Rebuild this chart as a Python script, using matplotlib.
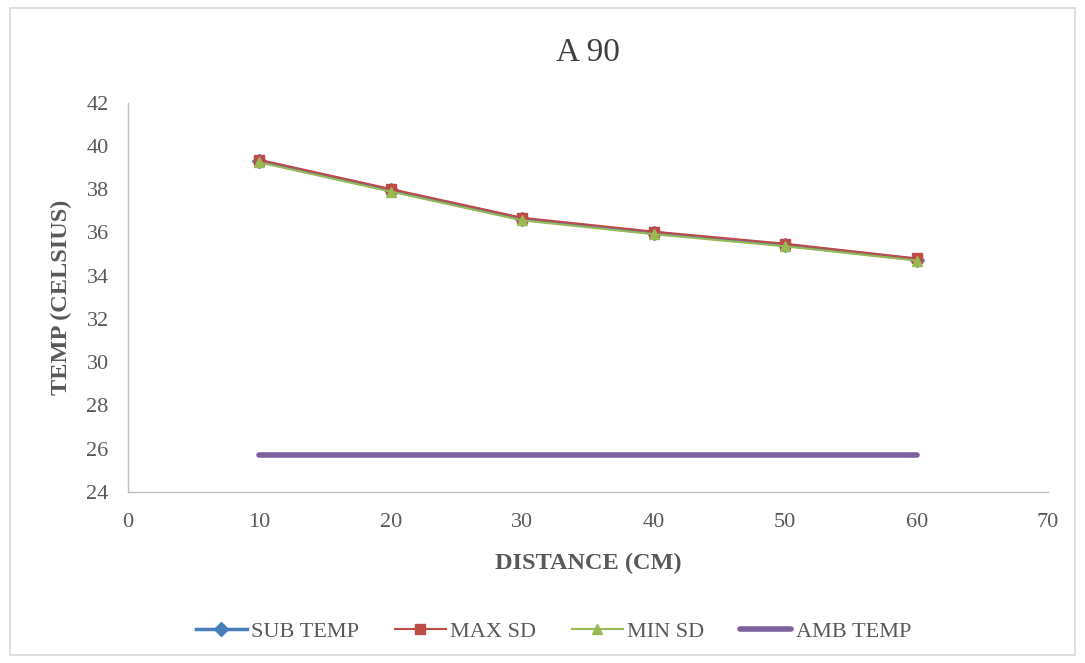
import numpy as np
import matplotlib
matplotlib.use("Agg")
import matplotlib.pyplot as plt
from matplotlib.patches import Rectangle

plt.rcParams['font.family'] = ['Liberation Serif', 'DejaVu Serif']

# data
distance = [10, 20, 30, 40, 50, 60]
sub_temp = [39.30, 37.95, 36.62, 35.98, 35.42, 34.75]
max_sd = [39.36, 38.01, 36.68, 36.04, 35.48, 34.80]
min_sd = [39.24, 37.89, 36.56, 35.92, 35.36, 34.70]
amb_temp = [25.7, 25.7, 25.7, 25.7, 25.7, 25.7]

blue = '#4A7EBB'
red = '#BE4B48'
green = '#98B954'
purple = '#7D60A0'
gray_txt = '#595959'

fig = plt.figure(figsize=(10.85, 6.63), dpi=100)
ax = fig.add_axes([0.118, 0.258, 0.848, 0.587])

ax.plot(distance, sub_temp, color=blue, lw=2.5, marker='D', ms=7, label='SUB TEMP')
ax.plot(distance, max_sd, color=red, lw=1.5, marker='s', ms=7, label='MAX SD')
ax.plot(distance, min_sd, color=green, lw=1.5, marker='^', ms=7, label='MIN SD')
ax.plot(distance, amb_temp, color=purple, lw=4, solid_capstyle='round', label='AMB TEMP')

ax.set_xlim(0, 70)
ax.set_ylim(24, 42)
ax.set_xticks(np.arange(0, 71, 10))
ax.set_yticks(np.arange(24, 43, 2))

for s in ['top', 'right']:
    ax.spines[s].set_visible(False)
for s in ['left', 'bottom']:
    ax.spines[s].set_color('#BFBFBF')
    ax.spines[s].set_linewidth(1)
ax.tick_params(length=0, labelsize=16, colors=gray_txt)
ax.tick_params(axis='y', pad=14)
ax.tick_params(axis='x', pad=15)

ax.set_title('A 90', fontsize=24, color='#404040', pad=30)
ax.set_xlabel('DISTANCE (CM)', fontsize=17.5, fontweight='bold', color=gray_txt, labelpad=15)
ax.set_ylabel('TEMP (CELSIUS)', fontsize=17.5, fontweight='bold', color=gray_txt, labelpad=10)

leg = fig.legend(loc='center', bbox_to_anchor=(0.51, 0.047), ncol=4, frameon=False,
                 fontsize=16, handlelength=2.3, columnspacing=1.6, handletextpad=0.2)
for t in leg.get_texts():
    t.set_color(gray_txt)

fig.patches.append(Rectangle((0.009, 0.012), 0.982, 0.976, transform=fig.transFigure,
                             fill=False, edgecolor='#D9D9D9', lw=1.2))

fig.savefig('out.png', dpi=100)
